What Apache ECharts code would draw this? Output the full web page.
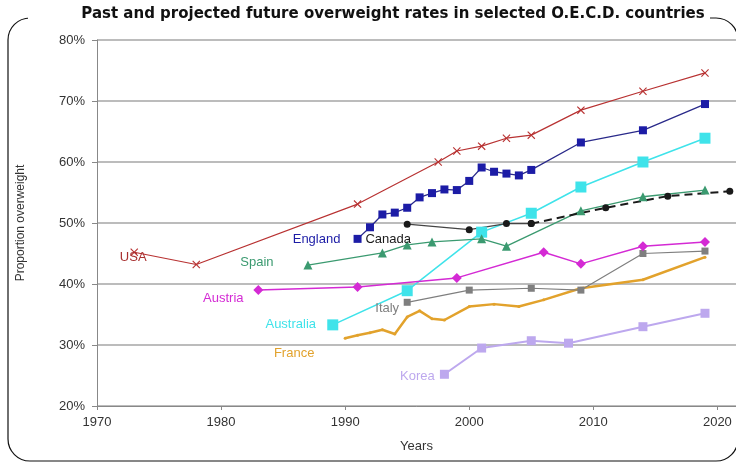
<!DOCTYPE html>
<html>
<head>
<meta charset="utf-8">
<script src="https://cdn.jsdelivr.net/npm/echarts@6/dist/echarts.min.js"></script>
<style>html,body{margin:0;padding:0;background:#fff}#c{width:736px;height:463px}</style>
</head>
<body>
<div id="c"></div>
<script>
// ---- data (years, percent overweight) ----
const usaYears = [1973, 1978, 1991, 1997.5, 1999, 2001, 2003, 2005, 2009, 2014, 2019];
const usaValues = [45.2, 43.2, 53.1, 60.0, 61.8, 62.6, 63.9, 64.4, 68.5, 71.6, 74.6];

const englandYears = [1991, 1992, 1993, 1994, 1995, 1996, 1997, 1998, 1999, 2000, 2001, 2002, 2003, 2004, 2005, 2009, 2014, 2019];
const englandValues = [47.4, 49.3, 51.4, 51.7, 52.5, 54.2, 54.9, 55.5, 55.4, 56.9, 59.1, 58.4, 58.1, 57.8, 58.7, 63.2, 65.2, 69.5];

const canadaYears = [1995, 2000, 2003, 2005];
const canadaValues = [49.8, 48.9, 49.9, 49.9];
const canadaProjYears = [2005, 2011, 2016, 2021];
const canadaProjValues = [49.9, 52.5, 54.4, 55.2];

const spainYears = [1987, 1993, 1995, 1997, 2001, 2003, 2009, 2014, 2019];
const spainValues = [43.1, 45.1, 46.4, 46.9, 47.4, 46.2, 52.0, 54.3, 55.4];

const austriaYears = [1983, 1991, 1999, 2006, 2009, 2014, 2019];
const austriaValues = [39.0, 39.5, 41.0, 45.2, 43.3, 46.2, 46.9];

const australiaYears = [1989, 1995, 2001, 2005, 2009, 2014, 2019];
const australiaValues = [33.3, 38.9, 48.5, 51.6, 55.9, 60.0, 63.9];

const italyYears = [1995, 2000, 2005, 2009, 2014, 2019];
const italyValues = [37.0, 39.0, 39.3, 39.0, 45.0, 45.4];

const franceYears = [1990, 1991, 1992, 1993, 1994, 1995, 1996, 1997, 1998, 2000, 2002, 2004, 2006, 2009, 2014, 2019];
const franceValues = [31.1, 31.6, 32.0, 32.5, 31.8, 34.6, 35.6, 34.3, 34.1, 36.3, 36.7, 36.3, 37.4, 39.3, 40.7, 44.4];

const koreaYears = [1998, 2001, 2005, 2008, 2014, 2019];
const koreaValues = [25.2, 29.5, 30.7, 30.3, 33.0, 35.2];

const yTicks = [20, 30, 40, 50, 60, 70, 80];
const xTicks = [1970, 1980, 1990, 2000, 2010, 2020];

// ---- helpers ----
const XSYM = 'path://M0,1L1,0L5,4L9,0L10,1L6,5L10,9L9,10L5,6L1,10L0,9L4,5Z';
function mk(name, years, values, style, labelOffset) {
  const data = years.map((y, i) => {
    const d = { value: [y, values[i]] };
    if (i === 0 && labelOffset) {
      d.label = {
        show: true, position: 'inside', offset: labelOffset,
        formatter: name, color: style.labelColor || style.color,
        fontFamily: 'Liberation Sans, Arial, sans-serif', fontSize: 13
      };
    }
    return d;
  });
  return {
    name: name, type: 'line', data: data,
    symbol: style.symbol, symbolSize: style.size,
    lineStyle: { color: style.lineColor || style.color, width: style.width || 1.5, type: style.dash || 'solid' },
    itemStyle: { color: style.color },
    label: { show: false },
    emphasis: { disabled: true },
    z: style.z || 3
  };
}

const chart = echarts.init(document.getElementById('c'), null, { renderer: 'canvas' });
const option = {
  animation: false,
  backgroundColor: '#fff',
  title: {
    text: 'Past and projected future overweight rates in selected O.E.C.D. countries',
    left: 393, top: 7, textAlign: 'center',
    padding: 0,
    textStyle: { fontFamily: 'DejaVu Sans, sans-serif', fontWeight: 'bold', fontSize: 15, color: '#111' }
  },
  graphic: [
    { type: 'rect', z: -10, shape: { x: 8, y: 18, width: 730, height: 443, r: 22 }, style: { fill: 'none', stroke: '#111', lineWidth: 1.2 } },
    { type: 'rect', z: -5, shape: { x: 28, y: 10, width: 682, height: 16 }, style: { fill: '#fff' } }
  ],
  grid: { left: 97, right: 0, top: 40, bottom: 57 },
  xAxis: {
    type: 'value', min: 1970, max: 2021.5, interval: 10,
    name: 'Years', nameLocation: 'middle', nameGap: 34,
    nameTextStyle: { fontFamily: 'Liberation Sans, Arial, sans-serif', fontSize: 13, color: '#333' },
    axisLine: { lineStyle: { color: '#888', width: 1 } },
    axisTick: { show: true, length: 4, lineStyle: { color: '#888' } },
    axisLabel: { showMaxLabel: false, margin: 10, fontFamily: 'Liberation Sans, Arial, sans-serif', fontSize: 13, color: '#333',
      formatter: v => (xTicks.indexOf(v) >= 0 ? String(v) : '') },
    splitLine: { show: false }
  },
  yAxis: {
    type: 'value', min: 20, max: 80, interval: 10,
    name: 'Proportion overweight', nameLocation: 'middle', nameGap: 70, nameRotate: 90,
    nameTextStyle: { fontFamily: 'Liberation Sans, Arial, sans-serif', fontSize: 12, color: '#333' },
    axisLine: { show: true, lineStyle: { color: '#888', width: 1 } },
    axisTick: { show: true, length: 5, lineStyle: { color: '#888' } },
    axisLabel: { margin: 12, fontFamily: 'Liberation Sans, Arial, sans-serif', fontSize: 13, color: '#333',
      formatter: v => (yTicks.indexOf(v) >= 0 ? v + '%' : '') },
    splitLine: { show: true, lineStyle: { color: '#bcbcbc', width: 2 } }
  },
  series: [
    mk('Korea', koreaYears, koreaValues, { color: '#bda8ee', symbol: 'rect', size: 9, width: 2 }, [-27, 2]),
    mk('France', franceYears, franceValues, { color: '#e2a22c', symbol: 'circle', size: 3, width: 2.5 }, [-51, 15]),
    mk('Italy', italyYears, italyValues, { color: '#7f7f7f', symbol: 'rect', size: 7, width: 1.2 }, [-20, 6]),
    mk('Australia', australiaYears, australiaValues, { color: '#3fe3ea', symbol: 'rect', size: 11, width: 1.5 }, [-42, 0]),
    mk('Austria', austriaYears, austriaValues, { color: '#d42ad4', symbol: 'diamond', size: 10, width: 1.5 }, [-35, 8]),
    mk('Spain', spainYears, spainValues, { color: '#3b9a70', symbol: 'triangle', size: 9, width: 1.3 }, [-51, -3]),
    mk('Canada', canadaYears, canadaValues, { color: '#1a1a1a', lineColor: '#444', symbol: 'circle', size: 7, width: 1.2 }, [-19, 15]),
    mk('Canada projected', canadaProjYears, canadaProjValues, { color: '#1a1a1a', symbol: 'circle', size: 7, width: 2, dash: [8, 5] }, null),
    mk('England', englandYears, englandValues, { color: '#1c1ca6', lineColor: '#2a2a8a', symbol: 'rect', size: 8, width: 1.3 }, [-41, 1]),
    mk('USA', usaYears, usaValues, { color: '#b83232', labelColor: '#a83030', symbol: XSYM, size: 8, width: 1.2 }, [-1, 5])
  ]
};
chart.setOption(option);
</script>
</body>
</html>
